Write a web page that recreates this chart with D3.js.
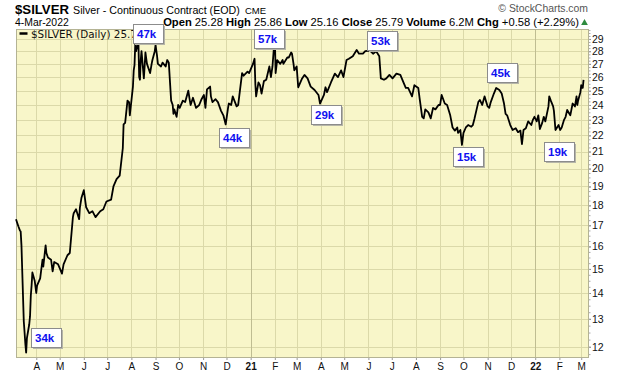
<!DOCTYPE html>
<html>
<head>
<meta charset="utf-8">
<script src="https://cdn.jsdelivr.net/npm/d3@7"></script>
<style>
body { margin: 0; background: #fff; }
svg { display: block; font-family: Arial, "Liberation Sans", sans-serif; }
</style>
</head>
<body>
<svg width="620" height="376"></svg>
<script>
// daily closes of $SILVER
var silver = [
  ["2020-03-06",17.30],["2020-03-09",16.95],["2020-03-11",16.75],["2020-03-12",16.70],["2020-03-13",16.05],
  ["2020-03-16",12.90],["2020-03-17",12.50],["2020-03-18",12.10],["2020-03-19",11.80],["2020-03-20",12.30],
  ["2020-03-23",12.80],["2020-03-24",13.10],["2020-03-25",13.90],["2020-03-26",14.30],["2020-03-27",14.85],
  ["2020-03-30",14.50],["2020-04-01",14.00],["2020-04-02",14.30],["2020-04-06",14.60],["2020-04-09",15.40],
  ["2020-04-10",15.10],["2020-04-13",16.05],["2020-04-14",15.70],["2020-04-16",15.50],["2020-04-20",15.40],
  ["2020-04-22",14.90],["2020-04-24",15.30],["2020-04-29",15.20],["2020-05-04",14.80],["2020-05-06",15.20],
  ["2020-05-11",15.60],["2020-05-14",15.70],["2020-05-18",17.40],["2020-05-19",17.60],["2020-05-22",17.80],
  ["2020-05-26",17.30],["2020-05-27",17.90],["2020-05-29",18.40],["2020-06-01",18.80],["2020-06-04",17.90],
  ["2020-06-08",17.60],["2020-06-12",17.70],["2020-06-16",17.40],["2020-06-22",17.70],["2020-06-26",17.80],
  ["2020-06-30",18.20],["2020-07-06",18.30],["2020-07-09",19.00],["2020-07-13",19.40],["2020-07-17",19.60],
  ["2020-07-21",21.20],["2020-07-22",22.70],["2020-07-24",22.80],["2020-07-27",24.30],["2020-07-29",24.20],
  ["2020-07-30",23.30],["2020-08-03",25.30],["2020-08-04",26.50],["2020-08-05",26.90],["2020-08-06",28.60],
  ["2020-08-07",28.00],["2020-08-10",28.80],["2020-08-11",26.00],["2020-08-12",25.80],["2020-08-13",27.30],
  ["2020-08-14",28.00],["2020-08-17",25.90],["2020-08-18",26.80],["2020-08-19",27.90],["2020-08-21",27.00],
  ["2020-08-25",26.30],["2020-08-27",27.00],["2020-08-28",27.30],["2020-08-31",28.00],["2020-09-01",28.50],
  ["2020-09-03",27.60],["2020-09-04",27.00],["2020-09-08",26.80],["2020-09-10",27.10],["2020-09-14",26.80],
  ["2020-09-16",27.30],["2020-09-18",27.10],["2020-09-21",24.30],["2020-09-23",24.00],["2020-09-24",23.40],
  ["2020-09-25",23.70],["2020-09-28",23.20],["2020-09-30",24.00],["2020-10-02",23.80],["2020-10-06",24.30],
  ["2020-10-09",24.20],["2020-10-13",25.00],["2020-10-15",24.30],["2020-10-16",24.00],["2020-10-19",24.50],
  ["2020-10-23",23.80],["2020-10-27",24.00],["2020-10-30",24.40],["2020-11-02",24.70],["2020-11-04",23.80],
  ["2020-11-06",25.10],["2020-11-10",25.30],["2020-11-11",24.60],["2020-11-13",24.20],["2020-11-17",24.40],
  ["2020-11-20",24.20],["2020-11-24",23.60],["2020-11-27",23.30],["2020-11-30",22.70],["2020-12-03",23.80],
  ["2020-12-04",24.10],["2020-12-07",24.00],["2020-12-09",24.60],["2020-12-14",23.90],["2020-12-16",24.00],
  ["2020-12-18",24.90],["2020-12-21",26.30],["2020-12-23",26.10],["2020-12-28",26.40],["2020-12-30",26.30],
  ["2021-01-04",27.00],["2021-01-05",27.20],["2021-01-06",27.40],["2021-01-07",25.50],["2021-01-08",24.60],
  ["2021-01-11",25.60],["2021-01-13",25.40],["2021-01-15",24.80],["2021-01-18",25.70],["2021-01-21",25.80],
  ["2021-01-25",26.80],["2021-01-27",26.00],["2021-01-29",26.80],["2021-02-01",29.30],["2021-02-02",26.30],
  ["2021-02-04",27.30],["2021-02-08",27.00],["2021-02-11",27.30],["2021-02-12",27.00],["2021-02-17",27.50],
  ["2021-02-19",27.50],["2021-02-22",27.90],["2021-02-23",27.80],["2021-02-25",27.00],["2021-02-26",26.50],
  ["2021-03-01",26.80],["2021-03-03",25.25],["2021-03-08",25.90],["2021-03-11",26.16],["2021-03-15",25.90],
  ["2021-03-19",25.30],["2021-03-24",25.05],["2021-03-29",24.70],["2021-03-31",24.10],["2021-04-05",24.70],
  ["2021-04-07",25.25],["2021-04-09",24.90],["2021-04-14",25.60],["2021-04-19",26.26],["2021-04-23",26.00],
  ["2021-04-27",26.50],["2021-04-30",26.00],["2021-05-04",27.30],["2021-05-07",27.40],["2021-05-12",27.60],
  ["2021-05-17",28.10],["2021-05-20",27.80],["2021-05-25",27.80],["2021-05-28",28.00],["2021-06-03",28.05],
  ["2021-06-07",27.80],["2021-06-11",28.00],["2021-06-15",27.60],["2021-06-17",25.90],["2021-06-21",25.80],
  ["2021-06-24",25.90],["2021-06-28",26.16],["2021-07-02",25.90],["2021-07-07",26.26],["2021-07-12",26.16],
  ["2021-07-16",25.60],["2021-07-19",25.20],["2021-07-22",25.20],["2021-07-27",24.60],["2021-07-30",25.40],
  ["2021-08-04",25.20],["2021-08-06",24.35],["2021-08-09",23.20],["2021-08-11",23.10],["2021-08-13",23.70],
  ["2021-08-17",23.50],["2021-08-20",23.10],["2021-08-23",23.80],["2021-08-26",23.70],["2021-08-30",24.00],
  ["2021-09-01",24.00],["2021-09-03",24.70],["2021-09-07",24.10],["2021-09-10",24.00],["2021-09-14",23.30],
  ["2021-09-17",22.50],["2021-09-20",22.30],["2021-09-23",22.50],["2021-09-24",22.15],["2021-09-27",22.34],
  ["2021-09-29",21.40],["2021-10-01",22.15],["2021-10-04",22.50],["2021-10-07",22.66],["2021-10-11",22.55],
  ["2021-10-13",22.66],["2021-10-15",23.05],["2021-10-20",24.20],["2021-10-22",24.35],["2021-10-25",24.00],
  ["2021-10-28",24.60],["2021-11-01",23.90],["2021-11-03",23.80],["2021-11-05",24.20],["2021-11-09",24.80],
  ["2021-11-12",25.20],["2021-11-16",25.05],["2021-11-19",24.80],["2021-11-22",24.10],["2021-11-24",23.40],
  ["2021-11-26",23.30],["2021-11-30",22.66],["2021-12-03",22.34],["2021-12-07",22.45],["2021-12-10",22.20],
  ["2021-12-13",22.30],["2021-12-15",21.45],["2021-12-17",22.34],["2021-12-20",22.45],["2021-12-23",22.90],
  ["2021-12-27",22.66],["2021-12-29",23.00],["2021-12-31",23.20],["2022-01-03",22.90],["2022-01-05",23.30],
  ["2022-01-07",22.40],["2022-01-10",22.80],["2022-01-12",23.20],["2022-01-14",22.90],["2022-01-18",23.90],
  ["2022-01-19",24.60],["2022-01-21",24.30],["2022-01-24",23.90],["2022-01-25",23.60],["2022-01-27",22.34],
  ["2022-01-31",22.66],["2022-02-02",22.34],["2022-02-04",22.50],["2022-02-07",23.00],["2022-02-09",23.20],
  ["2022-02-11",23.66],["2022-02-15",23.30],["2022-02-18",24.10],["2022-02-21",23.90],["2022-02-23",24.60],
  ["2022-02-24",24.00],["2022-02-25",24.30],["2022-02-28",24.90],["2022-03-01",25.40],["2022-03-02",25.20],
  ["2022-03-03",25.20],["2022-03-04",25.79]
];

// volume call-outs: label, date and price level the box sits on
var volLabels = ["34k", "47k", "44k", "57k", "29k", "53k", "15k", "45k", "19k"];
var volDates = ["2020-04-14", "2020-08-22", "2020-12-10", "2021-01-25", "2021-04-08", "2021-06-18", "2021-10-07", "2021-11-20", "2022-02-01"];
var volPrices = [12.31, 29.48, 21.89, 29.02, 23.35, 28.89, 20.69, 26.37, 21.02];

var yTicks = d3.range(12, 30);
var quote = [["Open", "25.28"], ["High", "25.86"], ["Low", "25.16"], ["Close", "25.79"], ["Volume", "6.2M"], ["Chg", "+0.58 (+2.29%)"]];

var svg = d3.select('svg');
var parseDate = d3.timeParse('%Y-%m-%d');
var plot = { l: 16, r: 589, t: 29, b: 358 };

var data = silver.map(d => ({ date: parseDate(d[0]), close: d[1] }));

var xScale = d3.scaleTime()
    .domain([new Date(2020, 2, 6), new Date(2022, 2, 11)])
    .range([plot.l, plot.r]);

var yScale = d3.scaleLog()
    .domain([11.62, 29.84])
    .range([plot.b, plot.t]);

// plot background
svg.append('rect')
    .attr('x', plot.l).attr('y', plot.t)
    .attr('width', plot.r - plot.l).attr('height', plot.b - plot.t)
    .attr('fill', '#f8f6c9');

var months = d3.timeMonth.range(new Date(2020, 3, 1), new Date(2022, 3, 1));

// grid
svg.append('g').selectAll('line')
    .data(yTicks).enter().append('line')
    .attr('x1', plot.l).attr('x2', plot.r)
    .attr('y1', d => Math.round(yScale(d)) + 0.5).attr('y2', d => Math.round(yScale(d)) + 0.5)
    .attr('stroke', '#dbd9a9');

svg.append('g').selectAll('line')
    .data(months).enter().append('line')
    .attr('x1', d => Math.round(xScale(d)) + 0.5).attr('x2', d => Math.round(xScale(d)) + 0.5)
    .attr('y1', plot.t).attr('y2', plot.b)
    .attr('stroke', d => d.getMonth() === 0 ? '#bfbd92' : '#dbd9a9');

// border
svg.append('rect')
    .attr('x', plot.l + 0.5).attr('y', plot.t + 0.5)
    .attr('width', plot.r - plot.l - 1).attr('height', plot.b - plot.t - 1)
    .attr('fill', 'none').attr('stroke', '#b4b394');

// right axis
var yAxis = d3.axisRight(yScale)
    .tickValues(yTicks)
    .tickFormat(d3.format('d'))
    .tickSize(2)
    .tickPadding(1);

var yAxisG = svg.append('g')
    .attr('transform', `translate(${plot.r}, 0)`)
    .call(yAxis);
yAxisG.select('.domain').remove();
yAxisG.selectAll('line').attr('stroke', '#777');
yAxisG.selectAll('text').attr('font-size', 10.5).attr('font-family', 'Arial').attr('fill', '#111');

var yMinor = d3.axisRight(yScale)
    .tickValues(d3.range(11.75, 29.8, 0.25))
    .tickFormat('')
    .tickSize(1.5);
var yMinorG = svg.append('g')
    .attr('transform', `translate(${plot.r}, 0)`)
    .call(yMinor);
yMinorG.select('.domain').remove();
yMinorG.selectAll('line').attr('stroke', '#aaa');

// bottom axis
var xAxis = d3.axisBottom(xScale)
    .tickValues(months)
    .tickSize(2)
    .tickPadding(3)
    .tickFormat(d => d.getMonth() === 0 ? d3.timeFormat('%y')(d) : d3.timeFormat('%b')(d).charAt(0));

var xAxisG = svg.append('g')
    .attr('transform', `translate(0, ${plot.b})`)
    .call(xAxis);
xAxisG.select('.domain').remove();
xAxisG.selectAll('line').attr('stroke', '#999');
xAxisG.selectAll('text')
    .attr('font-size', 10)
    .attr('font-family', 'Arial')
    .attr('fill', '#111')
    .attr('font-weight', d => d.getMonth() === 0 ? 'bold' : 'normal');

// price line
var line = d3.line()
    .x(d => xScale(d.date))
    .y(d => yScale(d.close));

svg.append('path')
    .datum(data)
    .attr('fill', 'none')
    .attr('stroke', '#000')
    .attr('stroke-width', 1.8)
    .attr('stroke-linejoin', 'round')
    .attr('d', line);

// legend inside the plot (its tail sits under the 47k box, as on the original)
svg.append('line')
    .attr('x1', 19.5).attr('x2', 27.5)
    .attr('y1', 33.5).attr('y2', 33.5)
    .attr('stroke', '#000').attr('stroke-width', 2.5);
svg.append('text')
    .attr('x', 31).attr('y', 37.5)
    .attr('font-family', 'DejaVu Sans')
    .attr('font-size', 10.4)
    .attr('fill', '#111')
    .text('$SILVER (Daily) ' + silver[silver.length - 1][1]);

// volume boxes
var boxW = 30, boxH = 19;
var vol = svg.selectAll('.vol')
    .data(volLabels.map((t, i) => ({ text: t, date: parseDate(volDates[i]), price: volPrices[i] })))
    .enter().append('g')
    .attr('class', 'vol')
    .attr('transform', d => 'translate(' + [Math.round(xScale(d.date) - boxW / 2), Math.round(yScale(d.price) - boxH / 2)] + ')');

vol.append('rect')
    .attr('x', 2).attr('y', 2)
    .attr('width', boxW).attr('height', boxH)
    .attr('fill', '#b5b5a8');
vol.append('rect')
    .attr('x', 0.5).attr('y', 0.5)
    .attr('width', boxW).attr('height', boxH)
    .attr('fill', '#fff').attr('stroke', '#8c8c8c');
vol.append('text')
    .attr('x', 4).attr('y', 14)
    .attr('font-size', 11.5)
    .attr('font-weight', 'bold')
    .attr('fill', '#1010f0')
    .text(d => d.text);

// header
svg.append('text')
    .attr('x', 15).attr('y', 14)
    .attr('font-size', 13.2).attr('font-weight', 'bold')
    .text('$SILVER');
svg.append('text')
    .attr('x', 73).attr('y', 14)
    .attr('font-size', 10.7)
    .text('Silver - Continuous Contract (EOD)');
svg.append('text')
    .attr('x', 245).attr('y', 14)
    .attr('font-size', 9.5)
    .text('CME');
svg.append('text')
    .attr('x', 15).attr('y', 25.5)
    .attr('font-size', 10.4)
    .text('4-Mar-2022');
svg.append('text')
    .attr('x', 588).attr('y', 11.5)
    .attr('text-anchor', 'end')
    .attr('font-size', 10.4)
    .attr('fill', '#555')
    .text('\u00a9 StockCharts.com');

var stats = svg.append('text')
    .attr('x', 579).attr('y', 25.5)
    .attr('text-anchor', 'end')
    .attr('font-size', 11.2);
quote.forEach((q, i) => {
    stats.append('tspan').attr('font-weight', 'bold').text((i ? ' ' : '') + q[0]);
    stats.append('tspan').text(' ' + q[1]);
});

svg.append('path')
    .attr('d', d3.symbol(d3.symbolTriangle, 20)())
    .attr('transform', 'translate(584.5, 23)')
    .attr('fill', '#2e8b3e');
</script>
</body>
</html>
